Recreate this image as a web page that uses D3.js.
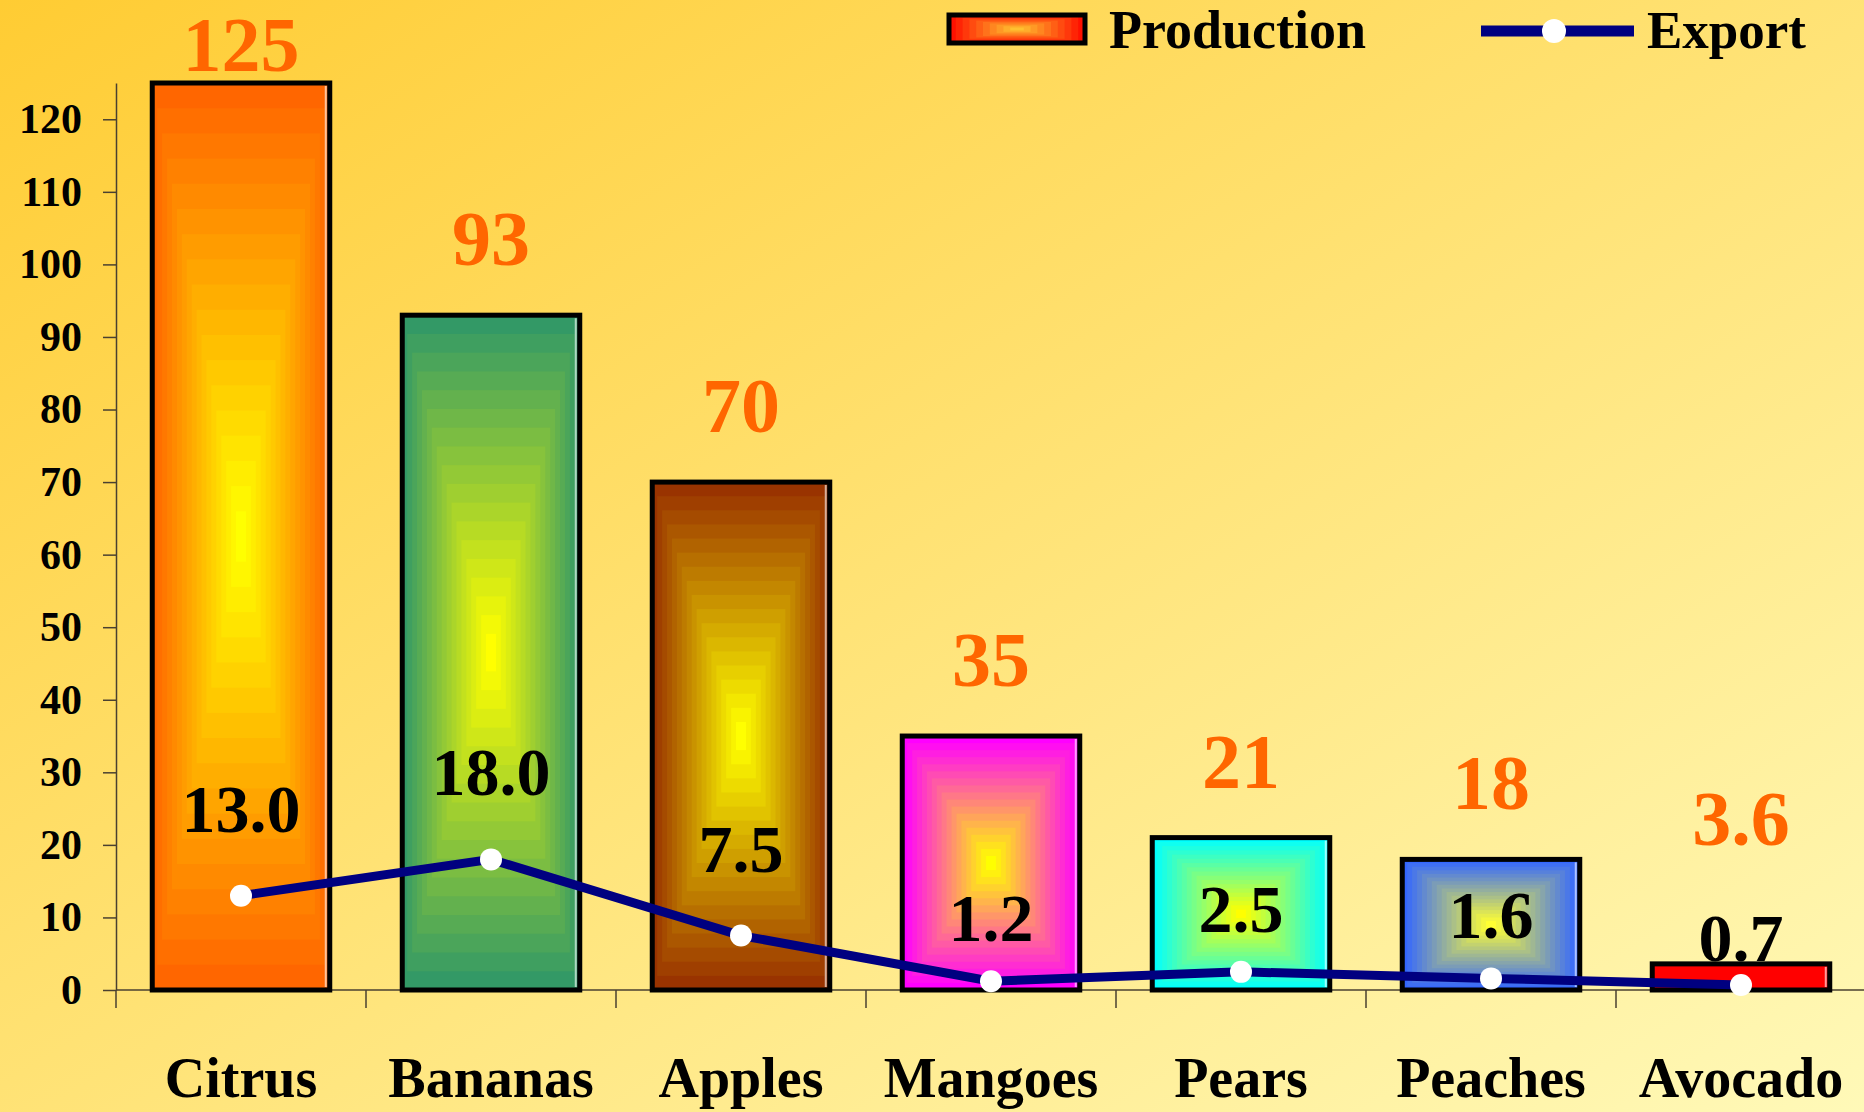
<!DOCTYPE html>
<html>
<head>
<meta charset="utf-8">
<script src="https://cdn.jsdelivr.net/npm/d3@7"></script>
<style>
  body { margin: 0; background: #fff; }
  text { font-family: "Liberation Serif", "Times New Roman", serif; font-weight: bold; }
</style>
</head>
<body>
<svg id="drawing_region"></svg>
<script>
// chart data
const categories = ['Citrus', 'Bananas', 'Apples', 'Mangoes', 'Pears', 'Peaches', 'Avocado'];
const production = [125, 93, 70, 35, 21, 18, 3.6];
const exportVals = [13.0, 18.0, 7.5, 1.2, 2.5, 1.6, 0.7];
const yTicks = [0, 10, 20, 30, 40, 50, 60, 70, 80, 90, 100, 110, 120];
const edgeColors = ['#ff6600', '#339966', '#993300', '#ff00ff', '#00ffff', '#3366ff', '#ff0000'];
const centerColors = ['#ffff00', '#ffff00', '#ffff00', '#ffff00', '#ffff00', '#ffff33', '#ff0000'];

const width = 1864, height = 1112;
const svg = d3.select('#drawing_region')
    .attr('width', width)
    .attr('height', height);

// background
const defs = svg.append('defs');
const bg = defs.append('linearGradient')
    .attr('id', 'bg')
    .attr('x1', 0).attr('y1', 0).attr('x2', 1).attr('y2', 1);
bg.append('stop').attr('offset', '0%').attr('stop-color', '#ffcc33');
bg.append('stop').attr('offset', '100%').attr('stop-color', '#fff9b8');
svg.append('rect')
    .attr('width', width).attr('height', height)
    .attr('fill', 'url(#bg)');

const y = d3.scaleLinear().domain([0, 125]).range([990, 83]);
const slot = d3.scaleBand().domain(categories).range([116, 1866]).padding(0);
const step = slot.step();
const barX = c => slot(c) + step * 0.145;
const barW = step * 0.71;
const mid = c => slot(c) + step / 2;

// "from centre" rectangular gradient, drawn as nested rects
function centreFill(g, x0, y0, w, h, edge, centre, n) {
    const col = d3.interpolateRgb(edge, centre);
    for (let i = 0; i < n; i++) {
        const t = i / n;
        g.append('rect')
            .attr('x', x0 + t * w / 2)
            .attr('y', y0 + t * h / 2)
            .attr('width', Math.max(0, w * (1 - t)))
            .attr('height', Math.max(0, h * (1 - t)))
            .attr('fill', col(i / (n - 1)));
    }
}

// y axis
const yAxis = d3.axisLeft(y)
    .tickValues(yTicks)
    .tickSize(13)
    .tickSizeOuter(0)
    .tickPadding(21);
const yg = svg.append('g')
    .attr('transform', 'translate(116,0)')
    .call(yAxis);
yg.selectAll('path, line').attr('stroke', '#4a4030').attr('stroke-width', 1.5);
yg.selectAll('text')
    .attr('fill', '#000')
    .style('font-size', '42px');

// x axis line + slot ticks
svg.append('line')
    .attr('x1', 116).attr('x2', width)
    .attr('y1', y(0)).attr('y2', y(0))
    .attr('stroke', '#4a4030').attr('stroke-width', 1.5);
svg.selectAll('.xtick')
    .data(categories)
    .enter()
    .append('line')
    .attr('x1', d => slot(d)).attr('x2', d => slot(d))
    .attr('y1', y(0)).attr('y2', y(0) + 18)
    .attr('stroke', '#4a4030').attr('stroke-width', 1.5);

svg.selectAll('.xlabel')
    .data(categories)
    .enter()
    .append('text')
    .attr('x', d => mid(d))
    .attr('y', 1097)
    .attr('text-anchor', 'middle')
    .style('font-size', '56px')
    .attr('fill', '#000')
    .text(d => d);

// bars
const bars = svg.append('g');
categories.forEach((c, i) => {
    const g = bars.append('g');
    const x0 = barX(c), y0 = y(production[i]), h = y(0) - y(production[i]);
    centreFill(g, x0, y0, barW, h, edgeColors[i], centerColors[i], 18);
    g.append('line')
        .attr('x1', x0 + barW - 4).attr('x2', x0 + barW - 4)
        .attr('y1', y0 + 3).attr('y2', y(0) - 3)
        .attr('stroke', 'rgba(255,255,255,0.6)').attr('stroke-width', 2);
    g.append('rect')
        .attr('x', x0).attr('y', y0)
        .attr('width', barW).attr('height', h)
        .attr('fill', 'none')
        .attr('stroke', '#000').attr('stroke-width', 5);
});

// production labels
svg.selectAll('.plabel')
    .data(production)
    .enter()
    .append('text')
    .attr('x', (d, i) => mid(categories[i]))
    .attr('y', d => Math.max(Math.min(y(d) - 50, y(0) - 145), 71))
    .attr('text-anchor', 'middle')
    .attr('fill', '#ff6600')
    .style('font-size', '78px')
    .text(d => d);

// export line
const line = d3.line()
    .x((d, i) => mid(categories[i]))
    .y(d => y(d));
svg.append('path')
    .datum(exportVals)
    .attr('d', line)
    .attr('fill', 'none')
    .attr('stroke', '#000080')
    .attr('stroke-width', 9);
svg.selectAll('.dot')
    .data(exportVals)
    .enter()
    .append('circle')
    .attr('cx', (d, i) => mid(categories[i]))
    .attr('cy', d => y(d))
    .attr('r', 11)
    .attr('fill', '#fff');

svg.selectAll('.elabel')
    .data(exportVals)
    .enter()
    .append('text')
    .attr('x', (d, i) => mid(categories[i]))
    .attr('y', d => y(d) - (d < 1 ? 24 : d < 5 ? 40 : 64))
    .attr('text-anchor', 'middle')
    .attr('fill', '#000')
    .style('font-size', '68px')
    .text(d => d.toFixed(1));

// legend
const lg = svg.append('g');
centreFill(lg, 949, 15, 136, 28, '#ff1100', '#ffc030', 10);
lg.append('rect')
    .attr('x', 949).attr('y', 15).attr('width', 136).attr('height', 28)
    .attr('fill', 'none').attr('stroke', '#000').attr('stroke-width', 5);
lg.append('text')
    .attr('x', 1109).attr('y', 48)
    .style('font-size', '54px')
    .text('Production');
lg.append('line')
    .attr('x1', 1481).attr('x2', 1634)
    .attr('y1', 31).attr('y2', 31)
    .attr('stroke', '#000080').attr('stroke-width', 11);
lg.append('circle')
    .attr('cx', 1554).attr('cy', 31).attr('r', 12)
    .attr('fill', '#fff');
lg.append('text')
    .attr('x', 1647).attr('y', 48)
    .style('font-size', '53px')
    .text('Export');
</script>
</body>
</html>
